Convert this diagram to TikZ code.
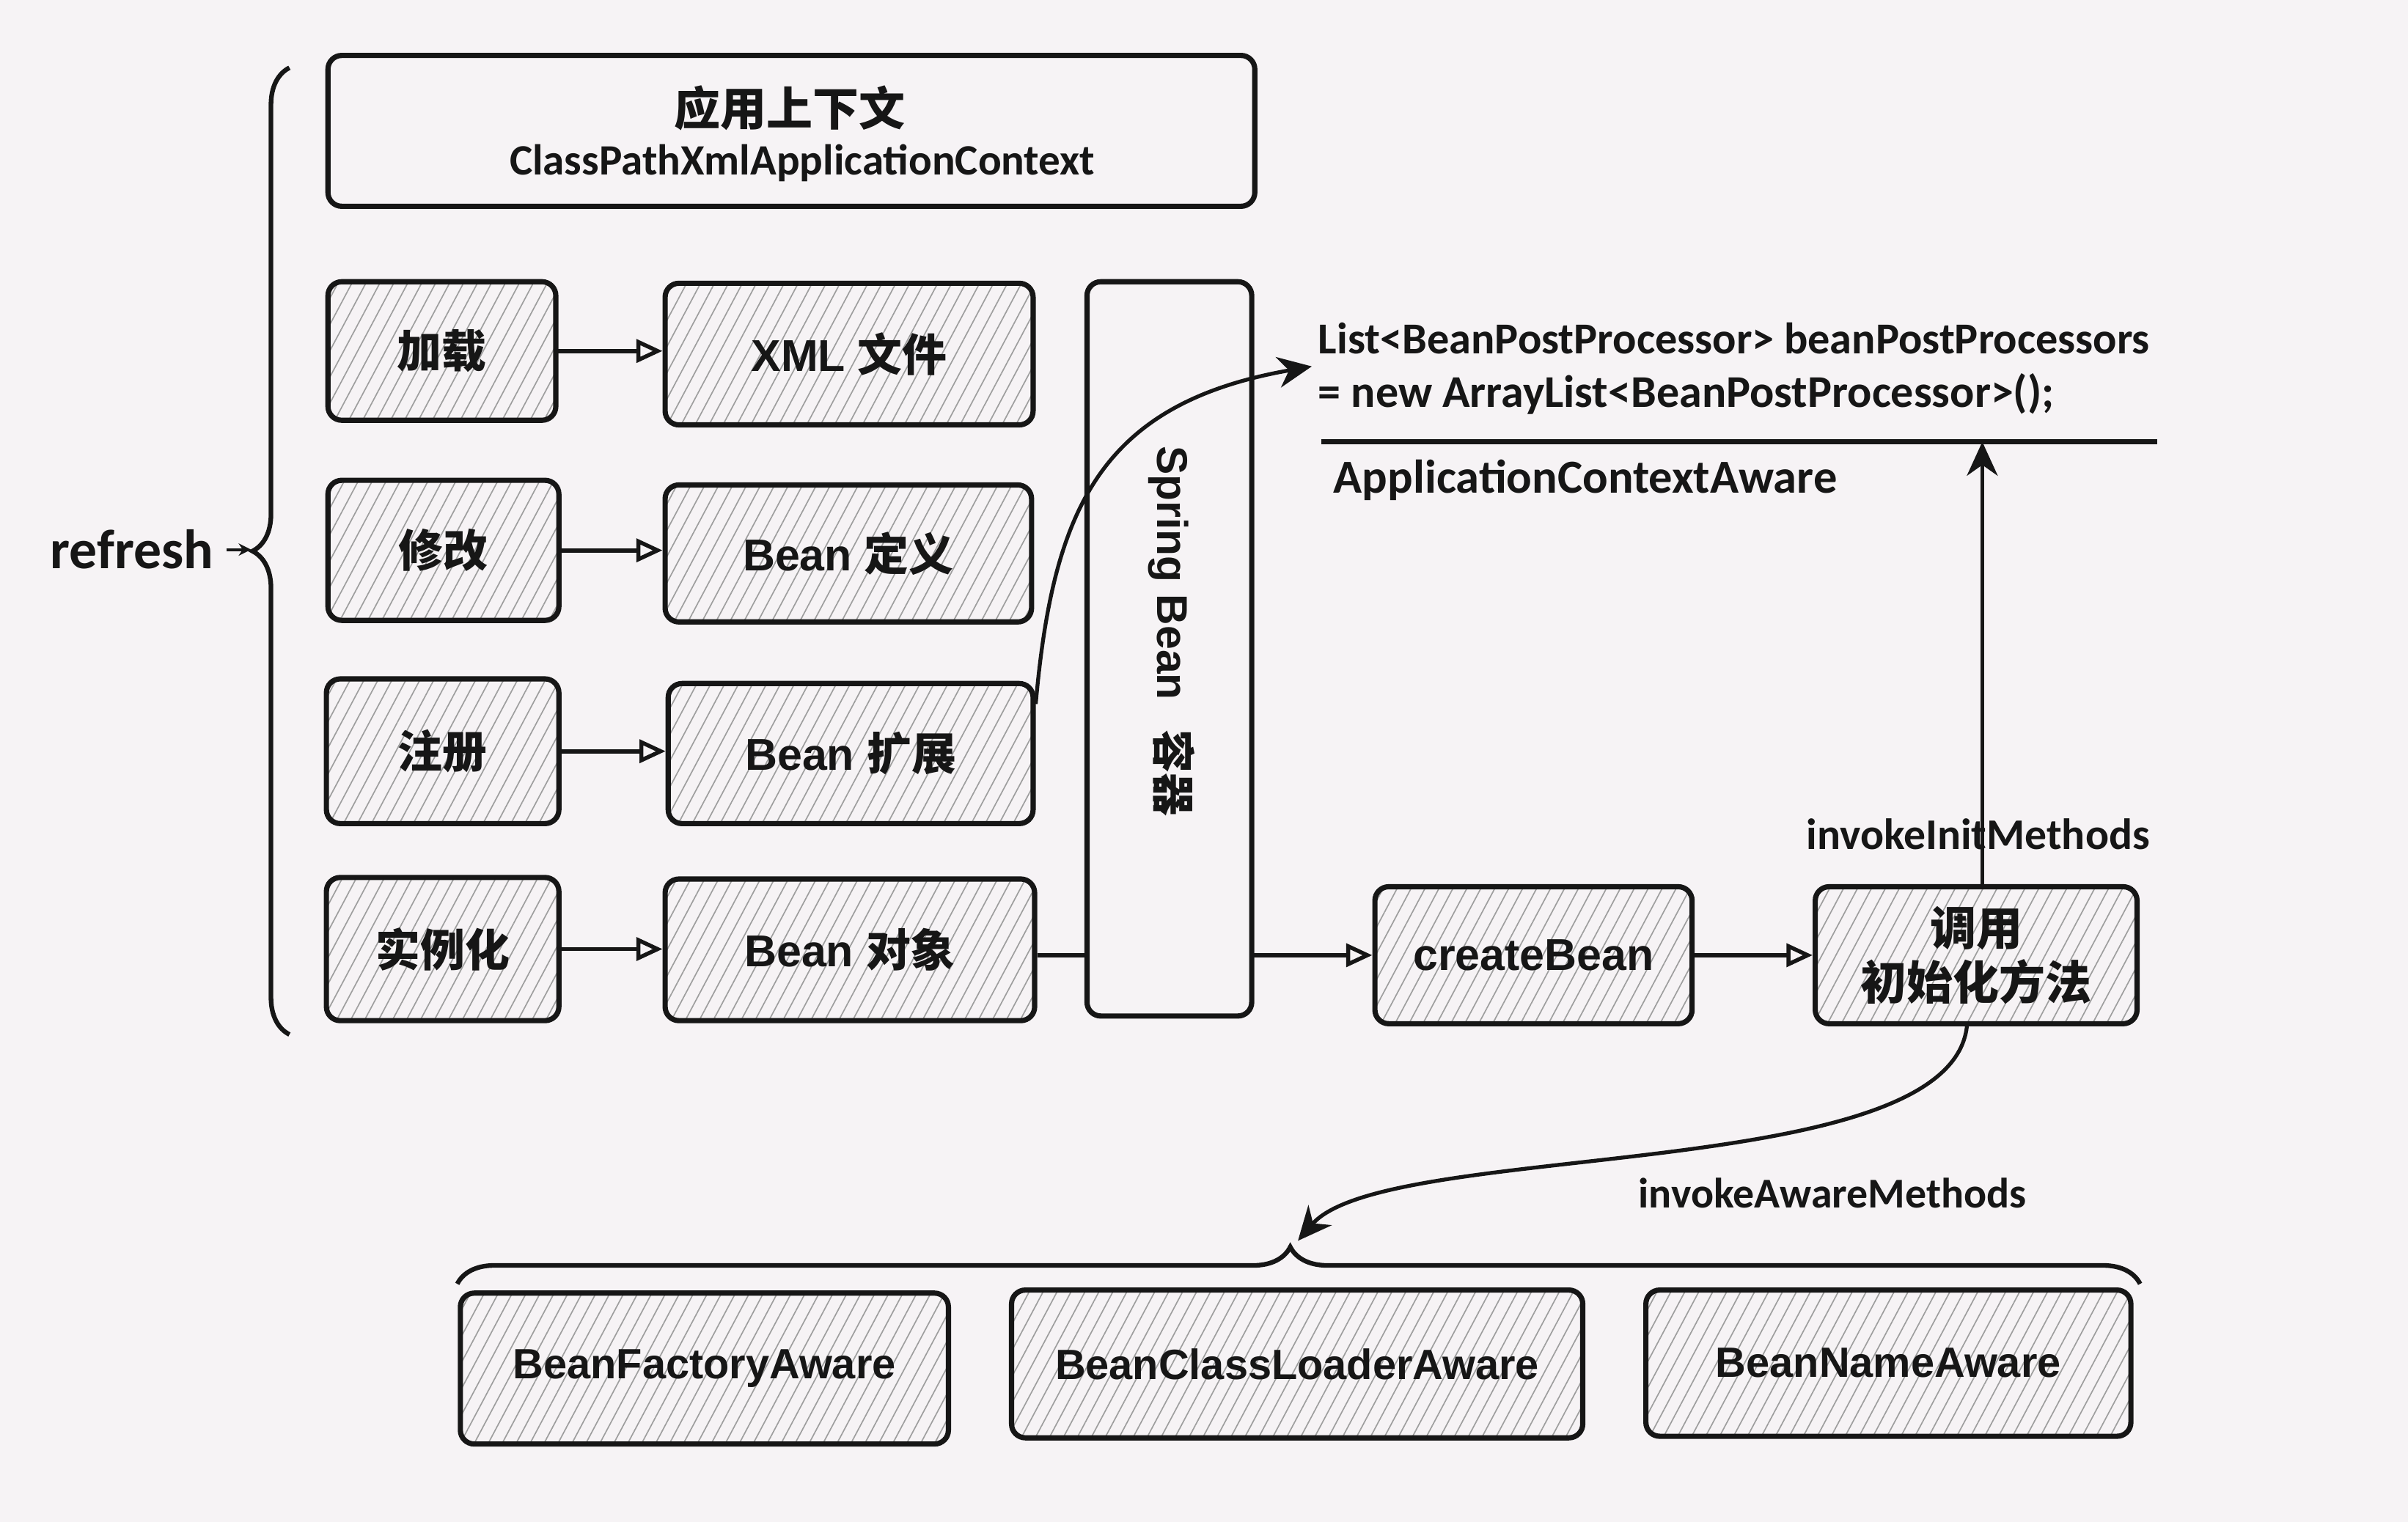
\documentclass[tikz,border=0pt]{standalone}
\usepackage{fontspec}
\usepackage{graphicx}
\setmainfont{Liberation Sans}
\newfontfamily\lat{Liberation Sans}
\newfontfamily\cjk{Noto Sans CJK SC}
\newfontfamily\hand{Carlito}
\usetikzlibrary{patterns.meta,arrows.meta,decorations.pathreplacing}
\definecolor{ink}{HTML}{161616}
\definecolor{paper}{HTML}{F6F3F5}
\newcommand{\zhs}[1]{{\cjk\bfseries #1}}
\tikzset{
  plainbox/.style={draw=ink, line width=3.4pt, rounded corners=9pt, fill=paper},
  hbox/.style={draw=ink, line width=3.4pt, rounded corners=9pt,
    pattern={Lines[angle=62,distance=8pt,line width=0.8pt]}, pattern color=black!38,
    font=\lat\bfseries\fontsize{29}{35}\selectfont, text=ink, align=center, inner sep=0pt},
  smalllbl/.style={font=\lat\bfseries\fontsize{27.5}{33}\selectfont},
  conn/.style={draw=ink, line width=2.8pt, -{Triangle[open, length=17pt, width=15pt, line width=2.6pt]}},
  curv/.style={draw=ink, line width=2.5pt, -{Stealth[length=22pt, width=20pt, inset=7pt]}},
  handt/.style={text=ink, inner sep=0pt},
  brc/.style={draw=ink, line width=3pt, decorate},
}
\begin{document}
\begin{tikzpicture}[x=1pt,y=-1pt]
\fill[paper] (0,0) rectangle (1564,988.69);
\useasboundingbox (0,0) rectangle (1564,988.69);

% application context
\node[plainbox, minimum width=602pt, minimum height=98pt] (ctx) at (514,85) {};
\node[handt, font=\fontsize{30}{34}\selectfont] (ctxzh) at (513,70) {\zhs{应用上下文}};
\node[handt] (ctxen) at (521,106) {\resizebox{380pt}{!}{\hand\bfseries ClassPathXmlApplicationContext}};

% left column
\node[hbox, minimum width=148pt, minimum height=90pt] (load) at (287,228) {\zhs{加载}};
\node[hbox, minimum width=239pt, minimum height=92pt] (xml) at (551.5,230) {XML \zhs{文件}};
\node[hbox, minimum width=150pt, minimum height=91pt] (mod) at (288,357.5) {\zhs{修改}};
\node[hbox, minimum width=238pt, minimum height=89pt] (def) at (551,359.5) {Bean \zhs{定义}};
\node[hbox, minimum width=151pt, minimum height=94pt] (reg) at (287.5,488) {\zhs{注册}};
\node[hbox, minimum width=237pt, minimum height=91pt] (ext) at (552.5,489.5) {Bean \zhs{扩展}};
\node[hbox, minimum width=151pt, minimum height=93pt] (inst) at (287.5,616.5) {\zhs{实例化}};
\node[hbox, minimum width=240pt, minimum height=92pt] (obj) at (552,617) {Bean \zhs{对象}};

\draw[conn] (load.east) -- (load.east -| xml.west);
\draw[conn] (mod.east) -- (mod.east -| def.west);
\draw[conn] (reg.east) -- (reg.east -| ext.west);
\draw[conn] (inst.east) -- (inst.east -| obj.west);

% right row
\node[hbox, minimum width=206pt, minimum height=89pt] (create) at (996,620.5) {createBean};
\node[hbox, font=\fontsize{30}{35}\selectfont, minimum width=209pt, minimum height=89pt] (init) at (1283.5,620.5) {\zhs{调用}\\\zhs{初始化方法}};
\draw[conn] (obj.east |- create.west) -- (create.west);
\draw[conn] (create.east) -- (init.west);

% container
\node[plainbox, minimum width=107pt, minimum height=477pt] (cont) at (759.5,421.5) {};
\node[handt, rotate=-90, font=\lat\bfseries\fontsize{28}{34}\selectfont] (conttxt) at (761,410) {Spring Bean\hspace{0.7em}\zhs{容器}};

% refresh brace
\coordinate (lbtop) at (188,44);
\coordinate (lbbot) at (188,672);
\draw[brc, decoration={brace, amplitude=24pt}] (lbbot) -- (lbtop);
\coordinate (lbtip) at (163,357);
\node[handt, anchor=east] (refresh) at (139,357) {\resizebox{106pt}{!}{\hand\bfseries refresh}};
\draw[ink, line width=2pt, -{Stealth[length=8pt,width=8pt]}] ([xshift=8pt]refresh.east) -- (lbtip);

% BeanPostProcessor text
\node[handt, anchor=west] (bpp1) at (856,220) {\resizebox{540pt}{!}{\hand\bfseries List<BeanPostProcessor> beanPostProcessors}};
\node[handt, anchor=west] (bpp2) at (856,256) {\resizebox{478pt}{!}{\hand\bfseries = new ArrayList<BeanPostProcessor>();}};
\coordinate (sepL) at (858,287);
\coordinate (sepR) at (1401,287);
\draw[ink, line width=3pt] (sepL) -- (sepR);
\node[handt, anchor=west] (aca) at (866,312) {\resizebox{327pt}{!}{\hand\bfseries ApplicationContextAware}};

\coordinate (bpptip) at (852,238);
\draw[curv] (ext.15) .. controls (684,330) and (715,262) .. (bpptip);

% invokeInitMethods
\node[handt, anchor=west] (iim) at (1173,542) {\resizebox{223pt}{!}{\hand\bfseries invokeInitMethods}};
\draw[curv] ([xshift=4pt]init.north) -- ([xshift=4pt]init.north |- sepL);

% bottom
\node[hbox, smalllbl, minimum width=317pt, minimum height=98pt] (bfa) at (457.5,889) {BeanFactoryAware};
\node[hbox, smalllbl, minimum width=371pt, minimum height=96pt] (bcla) at (842.5,886) {BeanClassLoaderAware};
\node[hbox, smalllbl, minimum width=315pt, minimum height=95pt] (bna) at (1226.5,885.5) {BeanNameAware};

\coordinate (bbl) at (297,834);
\coordinate (bbr) at (1390,834);
\draw[brc, decoration={brace, amplitude=24pt, aspect=0.495}] (bbl) -- (bbr);
\coordinate (bbtip) at (843,806);
\node[handt, anchor=west] (iam) at (1064,775) {\resizebox{252pt}{!}{\hand\bfseries invokeAwareMethods}};
\draw[curv] ([xshift=-6pt]init.south) .. controls (1266,770) and (900,740) .. (bbtip);
\end{tikzpicture}
\end{document}
